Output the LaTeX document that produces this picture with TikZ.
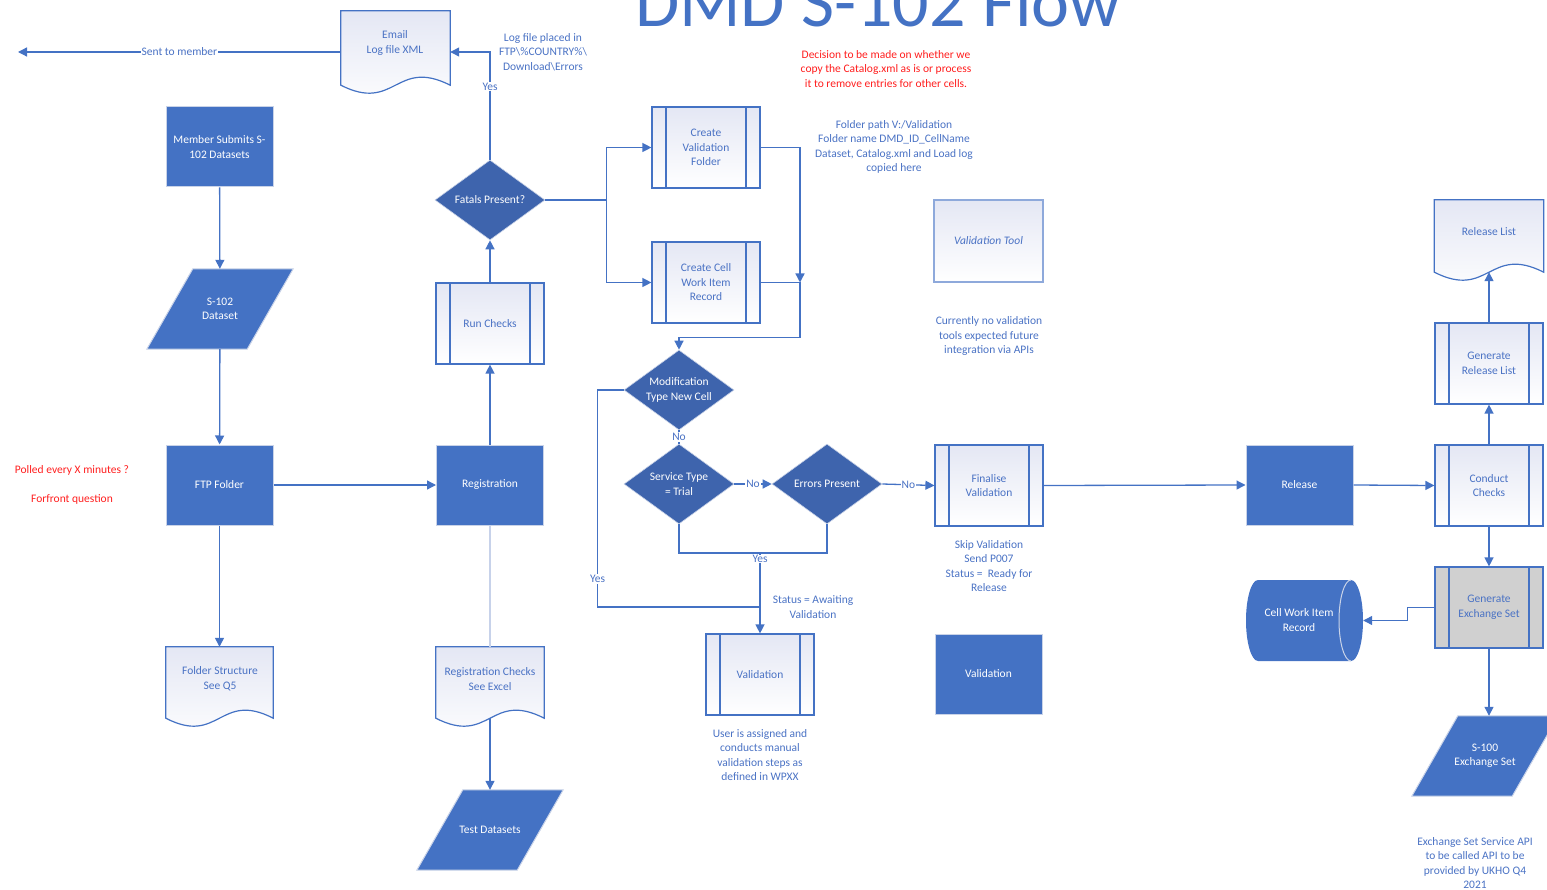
\documentclass[tikz,border=0pt]{standalone}
\usepackage{fontspec}
\setmainfont{Carlito}
\usetikzlibrary{arrows.meta,calc,backgrounds,shapes.geometric}

\definecolor{bl}{HTML}{4472C4}
\definecolor{dk}{HTML}{3E64AD}
\definecolor{lav}{HTML}{E4E7F4}
\definecolor{txt}{HTML}{4A72C4}
\definecolor{redn}{HTML}{FF1E1E}
\definecolor{pale}{HTML}{C7D2EA}
\definecolor{greyf}{HTML}{D0D0D0}
\definecolor{edge}{HTML}{C9D3E8}
\definecolor{toolb}{HTML}{8EA9DB}

\tikzset{
  every node/.style={font=\fontsize{11.5}{14.5}\selectfont, align=center},
  proc/.style={rectangle, fill=bl, draw=edge, line width=1pt, minimum width=107, minimum height=80, inner sep=0, text=white},
  subbase/.style={rectangle, draw=bl, line width=1.2pt, minimum width=108, minimum height=81, inner sep=0, text=txt,
    path picture={\draw[bl, line width=1.2pt]
      ($(path picture bounding box.north west)+(14,0)$) -- ($(path picture bounding box.south west)+(14,0)$)
      ($(path picture bounding box.north east)+(-14,0)$) -- ($(path picture bounding box.south east)+(-14,0)$);}},
  sub/.style={subbase, top color=lav, bottom color=white},
  subg/.style={subbase, fill=greyf},
  dia/.style={diamond, fill=dk, draw=edge, line width=0.6pt, text=white, minimum width=110, minimum height=80, inner sep=0, aspect=1.375},
  docbox/.style={inner sep=0},
  docface/.style={draw=bl, line width=1.2pt, top color=lav, bottom color=white},
  doctext/.style={text=txt, inner sep=0},
  para/.style={inner sep=0, minimum width=100, minimum height=80, text=white},
  paraface/.style={fill=bl, draw=edge, line width=1pt},
  tool/.style={rectangle, draw=toolb, line width=1.6pt, top color=lav, bottom color=white, minimum width=109, minimum height=82, text=txt},
  note/.style={text=txt, inner sep=0},
  rednote/.style={text=redn, inner sep=0},
  lab/.style={fill=white, inner sep=1pt, text=txt},
  conn/.style={draw=bl, line width=1.3pt},
  arr/.style={conn, -{Triangle[length=9pt,width=9pt]}},
  paleconn/.style={draw=pale, line width=1.3pt},
}

% document symbol with a wavy lower edge
\newcommand\docwave[1]{\path[docface] (#1.north west) -- (#1.north east) -- (#1.south east)
  .. controls ($(#1.south)+(0,-27.7)$) and ($(#1.south)+(0,27.7)$) .. (#1.south west) -- cycle;}
% slanted data symbol around a node
\newcommand\slantbox[1]{\path[paraface] ($(#1.north west)+(23,0)$) -- ($(#1.north east)+(23,0)$)
  -- ($(#1.south east)+(-23,0)$) -- ($(#1.south west)+(-23,0)$) -- cycle;}

\begin{document}
\begin{tikzpicture}[x=1pt,y=-1pt]
\useasboundingbox (0,0) rectangle (1547,890);

% title
\node[font=\fontsize{72}{72}\selectfont, text=bl, anchor=base] (ttl) at (878,27) {DMD S-102 Flow};

% intake column
\node[proc] (ms) at (219.5,147) {Member Submits S-\\102 Datasets};
\node[para] (ds) at (220,309) {S-102\\Dataset};
\node[proc] (ftp) at (219.5,485) {FTP Folder};
\node[docbox, minimum width=107, minimum height=71] (fs) at (219.5,682.5) {};
\node[doctext] (fst) at (220,679) {Folder Structure\\See Q5};
\node[rednote] (pol) at (72,470) {Polled every X minutes ?};
\node[rednote] (ffq) at (72,499) {Forfront question};

% registration column
\node[proc] (reg) at (490,485) {Registration};
\node[sub] (run) at (490,323.5) {Run Checks};
\node[dia] (fat) at (490,200) {Fatals Present?};
\node[docbox, minimum width=108, minimum height=71] (rc) at (490,682.5) {};
\node[doctext] (rct) at (490,679) {Registration Checks\\See Excel};
\node[para] (td) at (490,830) {Test Datasets};
\node[docbox, minimum width=109, minimum height=74] (em) at (395.5,48) {};
\node[doctext] (emt) at (395,43) {Email\\Log file XML};
\coordinate (member) at (18,52);
\node[note] (logn) at (543,52) {Log file placed in\\FTP\textbackslash\%COUNTRY\%\textbackslash\\Download\textbackslash Errors};

% validation set-up
\node[sub] (cvf) at (706,147.5) {Create\\Validation\\Folder};
\node[sub] (cwr) at (706,282.5) {Create Cell\\Work Item\\Record};
\node[note] (fpn) at (894,147) {Folder path V:/Validation\\Folder name DMD\_ID\_CellName\\Dataset, Catalog.xml and Load log\\copied here};
\node[rednote] (dec) at (886,69) {Decision to be made on whether we\\copy the Catalog.xml as is or process\\it to remove entries for other cells.};

% decisions
\node[dia] (mod) at (679,390) {Modification\\Type New Cell};
\node[dia] (svc) at (679,484) {Service Type\\= Trial};
\node[dia] (err) at (827,484) {Errors Present};
\coordinate (j1) at (800,282.5);
\coordinate (j2) at (760,607);
\coordinate (j3) at (760,553);

\node[sub] (val) at (760,674.5) {Validation};
\node[note] (usr) at (760,755) {User is assigned and\\conducts manual\\validation steps as\\defined in WPXX};
\node[note] (stat) at (813,607) {Status = Awaiting\\Validation};

\node[sub] (fin) at (989,485.5) {Finalise\\Validation};
\node[note] (skip) at (989,566) {Skip Validation\\Send P007\\Status =~~Ready for\\Release};
\node[tool] (vt) at (988.5,241) {\itshape Validation Tool};
\node[note] (cur) at (989,336) {Currently no validation\\tools expected future\\integration via APIs};
\node[proc] (val2) at (988.5,674) {Validation};

% release column
\node[proc] (rel) at (1299.5,485) {Release};
\node[sub] (cc) at (1489,485.5) {Conduct\\Checks};
\node[sub] (grl) at (1489,363.5) {Generate\\Release List};
\node[docbox, minimum width=109, minimum height=72] (rl) at (1489,236) {};
\node[doctext] (rlt) at (1489,232) {Release List};
\node[subg] (ges) at (1489,607.5) {Generate\\Exchange Set};
\node[docbox, minimum width=117, minimum height=81] (cwi) at (1304.5,620.5) {};
\node[inner sep=0, text=white] (cwit) at (1299,620) {Cell Work Item\\Record};
\node[para] (s100) at (1485,756) {S-100\\Exchange Set};
\node[note] (esn) at (1475,863) {Exchange Set Service API\\to be called API to be\\provided by UKHO Q4\\2021};

% symbol outlines behind their texts
\begin{scope}[on background layer]
  \docwave{em}
  \docwave{fs}
  \docwave{rc}
  \docwave{rl}
  \slantbox{ds}
  \slantbox{td}
  \slantbox{s100}
  % horizontal storage cylinder
  \fill[bl] (1258,580) -- (1351,580) .. controls (1357.6,580) and (1363,598.1) .. (1363,620.5)
    .. controls (1363,642.9) and (1357.6,661) .. (1351,661) -- (1258,661)
    .. controls (1251.4,661) and (1246,642.9) .. (1246,620.5)
    .. controls (1246,598.1) and (1251.4,580) .. (1258,580) -- cycle;
  \draw[edge, line width=1pt] (1351,580) .. controls (1344.4,580) and (1339,598.1) .. (1339,620.5)
    .. controls (1339,642.9) and (1344.4,661) .. (1351,661);
\end{scope}

% connectors
\draw[arr] (ms) -- (ds);
\draw[arr] (ds) -- (ftp);
\draw[arr] (ftp) -- (fs.north);
\draw[arr] (ftp.east) -- (reg.west);
\draw[arr] (reg) -- (run);
\draw[arr] (run) -- (fat);
\draw[paleconn] (reg.south) -- (rc.north);
\draw[arr] (rc.south) -- (td.north);
\draw[arr] (fat.north) |- node[lab, pos=0.34] {Yes} ($(em.east)+(0,4)$);
\draw[arr] ($(em.west)+(0,4)$) -- node[lab] {Sent to member} (member);

\draw[arr] (fat.east) -- ++(61,0) |- (cvf.west);
\draw[arr] (fat.east) -- ++(61,0) |- (cwr.west);
\draw[arr] (cvf.east) -| (j1);
\draw[conn] (cwr.east) -- (j1);
\draw[arr] (j1) |- ($(mod.north)+(0,-12)$) -- (mod.north);

\draw[conn] (mod.west) -- ++(-26,0) |- node[lab, pos=0.435] {Yes} (j2);
\draw[conn] (mod.south) -- node[lab] {No} (svc.north);
\draw[arr] (svc.east) -- node[lab] {No} (err.west);
\draw[arr] (err.east) -- node[lab] {No} (fin.west);
\draw[conn] (svc.south) |- (j3) -| (err.south);
\draw[arr] (j3) -- (val.north);
\node[lab, anchor=north, inner sep=0.5pt, text height=7pt, text depth=0pt] (yes3) at (760,554.5) {Yes};

\draw[arr] (fin.east) -- (rel.west);
\draw[arr] (rel.east) -- (cc.west);
\draw[arr] (cc.north) -- (grl.south);
\draw[arr] (grl.north) -- (rl.south);
\draw[arr] (cc.south) -- (ges.north);
\draw[arr] (ges.west) -- ++(-27,0) |- (cwi.east);
\draw[arr] (ges.south) -- (ges.south |- s100.north);

\end{tikzpicture}
\end{document}
